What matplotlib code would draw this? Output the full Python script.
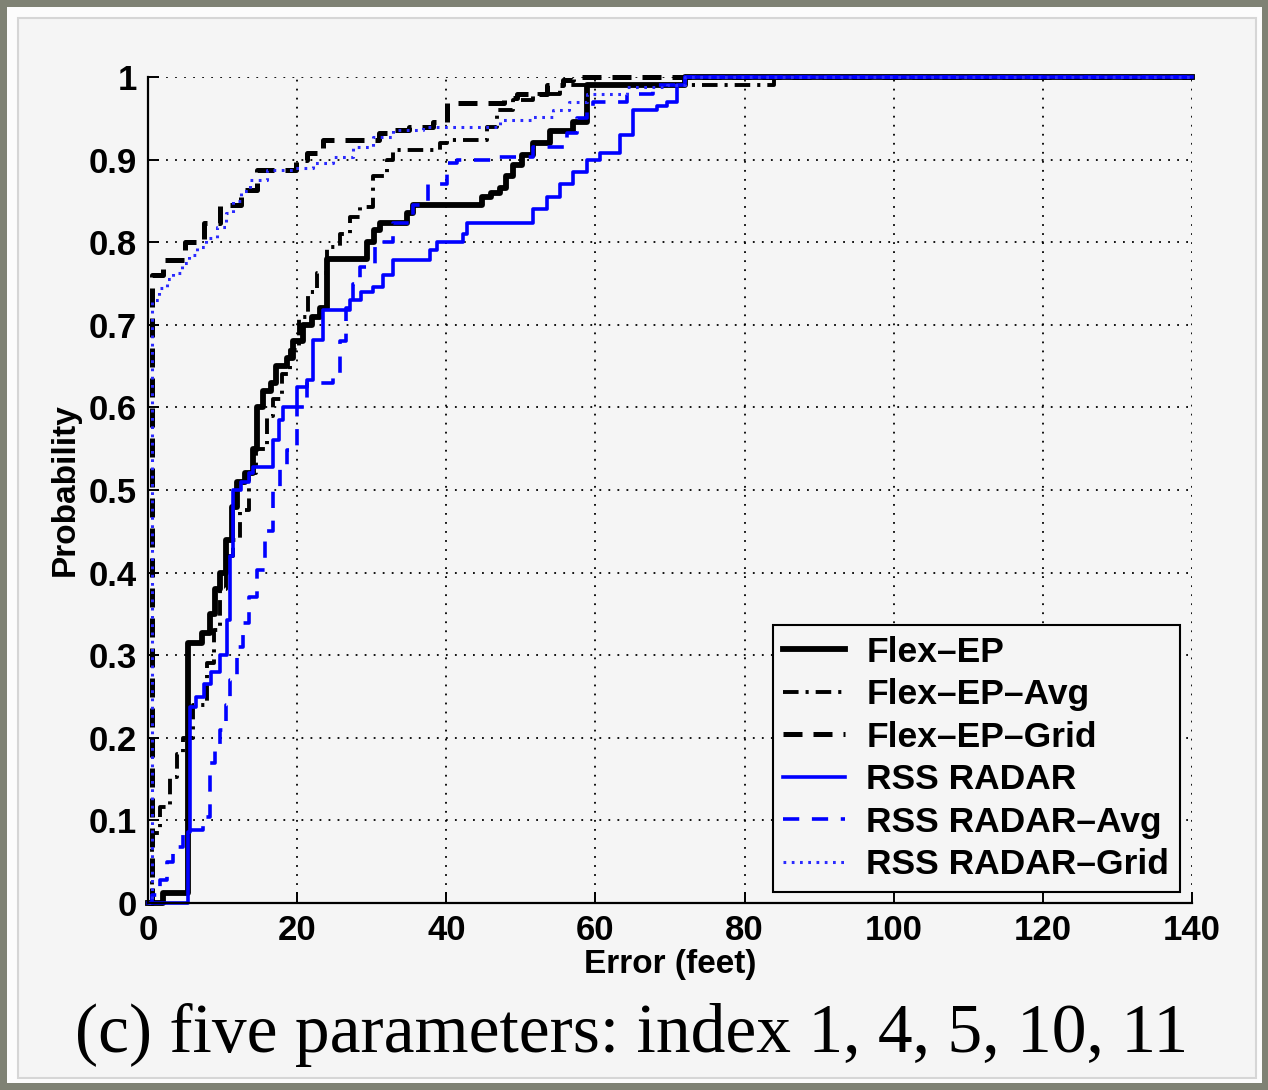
import matplotlib
matplotlib.use('Agg')
import matplotlib.pyplot as plt
from matplotlib.patches import Rectangle

# CDF of localisation error
flex_ep_x = [0, 2, 5.3, 7.2, 8.3, 9.0, 9.7, 10.5, 11.2, 11.9, 13.0, 14.1, 14.6, 15.4, 16.5, 17.2,
             18.6, 19.5, 20.8, 22.0, 23.1, 24.0, 29.4, 30.3, 31.1, 34.7,
             35.5, 44.8, 46.0, 47.2, 48.0, 49.0, 50.2, 51.6, 53.9, 57.0, 58.9, 72.0, 140]
flex_ep_y = [0, 0.012, 0.315, 0.327, 0.35, 0.38, 0.40, 0.44, 0.48, 0.51, 0.52, 0.55, 0.60, 0.62, 0.63, 0.65,
             0.66, 0.68, 0.70, 0.71, 0.72, 0.78, 0.80, 0.815, 0.823, 0.835,
             0.845, 0.855, 0.86, 0.866, 0.88, 0.894, 0.905, 0.92, 0.935, 0.946, 0.99, 1.0, 1.0]

flex_avg_x = [0, 0.5, 1.6, 2.9, 3.9, 4.7, 6.0, 7.9, 8.8, 9.7, 10.5, 11.4, 12.3, 13.5, 14.5, 15.9, 16.8,
              18.0, 19.0, 20.2, 21.5, 22.7, 24.0, 25.7, 27.1, 28.4, 30.2, 32.0, 32.9, 39.2, 40.1,
              45.5, 46.8, 49.0, 51.6, 55.2, 84.0, 140]
flex_avg_y = [0, 0.085, 0.116, 0.153, 0.18, 0.2, 0.24, 0.29, 0.33, 0.38, 0.42, 0.44, 0.476, 0.52, 0.55, 0.59, 0.61,
              0.64, 0.67, 0.71, 0.74, 0.763, 0.794, 0.81, 0.83, 0.843, 0.88, 0.9, 0.912, 0.92, 0.924,
              0.94, 0.96, 0.972, 0.98, 0.99, 1.0, 1.0]

flex_grid_x = [0, 0.5, 2.0, 5.0, 7.5, 9.7, 12.5, 14.6, 19.8, 21.3, 23.5, 31.0, 32.5, 35.0, 38.2, 40.1,
               47.8, 49.5, 53.5, 55.6, 57.0, 140]
flex_grid_y = [0, 0.76, 0.778, 0.8, 0.823, 0.845, 0.863, 0.887, 0.9, 0.908, 0.924, 0.932, 0.936, 0.94, 0.945, 0.968,
               0.975, 0.98, 0.99, 0.996, 1.0, 1.0]

radar_x = [0, 5.3, 5.6, 6.5, 7.5, 8.5, 9.7, 10.6, 11.0, 11.4, 12.5, 13.5, 14.1, 16.8, 17.5, 18.1, 20.0,
           21.3, 22.1, 23.5, 27.1, 28.5, 30.2, 31.5, 32.9, 37.8, 38.8, 42.3, 42.8, 51.6, 53.5, 55.2,
           57.0, 58.9, 60.6, 63.3, 65.0, 68.3, 69.6, 70.9, 72.0, 140]
radar_y = [0, 0.086, 0.237, 0.25, 0.265, 0.28, 0.30, 0.343, 0.42, 0.50, 0.51, 0.52, 0.528, 0.56, 0.585, 0.60, 0.625,
           0.633, 0.682, 0.718, 0.73, 0.74, 0.746, 0.76, 0.778, 0.79, 0.80, 0.81, 0.823, 0.84, 0.855, 0.87,
           0.885, 0.90, 0.908, 0.93, 0.96, 0.965, 0.97, 0.99, 1.0, 1.0]

radar_avg_x = [0, 0.5, 1.6, 2.5, 3.4, 4.7, 7.4, 8.3, 9.0, 9.7, 10.4, 11.0, 11.9, 12.7, 13.6, 14.6, 15.7,
               16.8, 17.7, 18.6, 20.0, 21.3, 24.8, 25.7, 26.5, 27.5, 28.4, 30.5, 32.9, 35.5, 37.5, 40.1,
               41.4, 46.8, 51.6, 56.2, 57.5, 58.9, 59.7, 64.2, 67.7, 72.0, 140]
radar_avg_y = [0, 0.01, 0.028, 0.05, 0.068, 0.088, 0.104, 0.17, 0.19, 0.21, 0.24, 0.27, 0.31, 0.339, 0.37, 0.403, 0.45,
               0.5, 0.525, 0.548, 0.6, 0.63, 0.64, 0.68, 0.72, 0.75, 0.77, 0.8, 0.823, 0.845, 0.87, 0.896,
               0.9, 0.903, 0.915, 0.932, 0.95, 0.964, 0.97, 0.98, 0.99, 1.0, 1.0]

radar_grid_x = [0, 0.5, 1.5, 2.5, 3.4, 4.5, 5.5, 6.6, 7.8, 9.3, 10.4, 11.4, 12.5, 13.7, 15.9, 19.5,
                22.1, 24.8, 27.5, 30.2, 32.9, 36.9, 47.2, 51.6, 54.3, 56.5, 58.9, 64.2, 69.6, 72.0, 140]
radar_grid_y = [0, 0.73, 0.745, 0.755, 0.763, 0.775, 0.785, 0.794, 0.805, 0.818, 0.835, 0.85, 0.862, 0.875, 0.887, 0.89,
                0.896, 0.903, 0.915, 0.927, 0.936, 0.94, 0.948, 0.952, 0.96, 0.97, 0.98, 0.988, 0.99, 1.0, 1.0]

labels = ['Flex\u2013EP', 'Flex\u2013EP\u2013Avg', 'Flex\u2013EP\u2013Grid',
          'RSS RADAR', 'RSS RADAR\u2013Avg', 'RSS RADAR\u2013Grid']
x_ticks = [0, 20, 40, 60, 80, 100, 120, 140]
y_ticks = [0, 0.1, 0.2, 0.3, 0.4, 0.5, 0.6, 0.7, 0.8, 0.9, 1.0]
y_tick_labels = ['0', '0.1', '0.2', '0.3', '0.4', '0.5', '0.6', '0.7', '0.8', '0.9', '1']

W, H = 1268, 1090
plt.rcParams['font.family'] = ['Liberation Sans', 'DejaVu Sans']
plt.rcParams['font.weight'] = 'bold'
plt.rcParams['axes.labelweight'] = 'bold'

fig = plt.figure(figsize=(W / 100, H / 100), dpi=100)
fig.patch.set_facecolor('#7f8274')
fig.patches.append(Rectangle((7 / W, 7 / H), 1255 / W, 1076 / H, transform=fig.transFigure,
                             facecolor='#fcfcfc', edgecolor='none', zorder=-20))
fig.patches.append(Rectangle((18 / W, 12 / H), 1238 / W, 1060 / H, transform=fig.transFigure,
                             facecolor='#f5f5f5', edgecolor='#d6d6d6', linewidth=1.5, zorder=-10))

ax = fig.add_axes([148 / W, (H - 903) / H, (1192 - 148) / W, (903 - 77) / H])
ax.set_facecolor('none')

ax.plot(flex_ep_x, flex_ep_y, drawstyle='steps-post', color='black', lw=4.2,
        label=labels[0], clip_on=False)
ax.plot(flex_avg_x, flex_avg_y, drawstyle='steps-post', color='black', lw=2.8,
        linestyle=(0, (4, 1.8, 0.8, 1.8)), label=labels[1], clip_on=False)
ax.plot(flex_grid_x, flex_grid_y, drawstyle='steps-post', color='black', lw=3.6,
        linestyle=(0, (3.8, 2.2)), label=labels[2], clip_on=False)
ax.plot(radar_x, radar_y, drawstyle='steps-post', color='#0000ff', lw=2.6,
        label=labels[3], clip_on=False)
ax.plot(radar_avg_x, radar_avg_y, drawstyle='steps-post', color='#0000ff', lw=2.6,
        linestyle=(0, (4.5, 3.5)), label=labels[4], clip_on=False)
ax.plot(radar_grid_x, radar_grid_y, drawstyle='steps-post', color='#2a2aff', lw=2.2,
        linestyle=(0, (0.9, 1.8)), label=labels[5], clip_on=False)

ax.set_xlim(0, 140)
ax.set_ylim(0, 1)
ax.set_xticks(x_ticks)
ax.set_yticks(y_ticks)
ax.set_yticklabels(y_tick_labels)
ax.spines['right'].set_visible(False)
ax.spines['top'].set_visible(False)
ax.spines['left'].set_linewidth(1.6)
ax.spines['bottom'].set_linewidth(1.6)
ax.tick_params(axis='both', direction='in', length=8, width=1.4, labelsize=25, pad=8)
ax.grid(True, color='black', linestyle=(0, (1, 4)), linewidth=1.3)
ax.set_axisbelow(True)

ax.set_xlabel('Error (feet)', fontsize=24, labelpad=1)
ax.set_ylabel('Probability', fontsize=24, labelpad=6)

leg = ax.legend(loc='lower right', bbox_to_anchor=(1180 / W, (H - 892) / H),
                bbox_transform=fig.transFigure, borderaxespad=0, fancybox=False,
                fontsize=25.5, handlelength=1.75, handletextpad=0.6, labelspacing=0.27,
                borderpad=0.3, framealpha=1)
leg.get_frame().set_edgecolor('black')
leg.get_frame().set_linewidth(1.5)
leg.get_frame().set_facecolor('#f5f5f5')

fig.text(632 / W, (H - 1035) / H, '(c) five parameters: index 1, 4, 5, 10, 11',
         family=['Liberation Serif', 'DejaVu Serif'], fontweight='normal', fontsize=50,
         ha='center', va='center')

fig.savefig('out.png', dpi=100, facecolor=fig.get_facecolor())
